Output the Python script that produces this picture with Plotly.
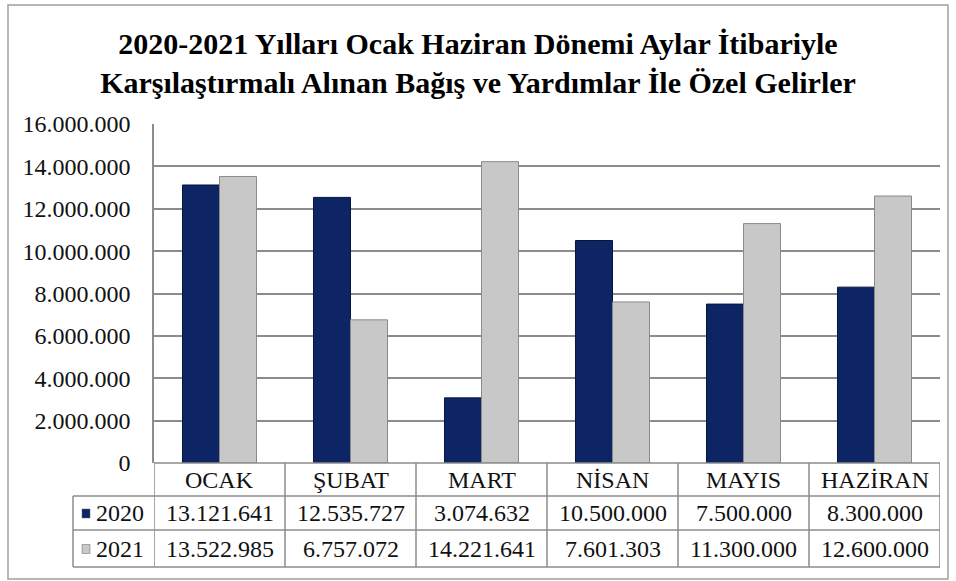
import plotly.graph_objects as go

# chart data
months = ["OCAK", "ŞUBAT", "MART", "NİSAN", "MAYIS", "HAZİRAN"]
years = ["2020", "2021"]
values_2020 = [13121641, 12535727, 3074632, 10500000, 7500000, 8300000]
values_2021 = [13522985, 6757072, 14221641, 7601303, 11300000, 12600000]
y_ticks = [0, 2000000, 4000000, 6000000, 8000000, 10000000, 12000000, 14000000, 16000000]

title = ("2020-2021 Yılları Ocak Haziran Dönemi Aylar İtibariyle<br>"
         "Karşılaştırmalı Alınan Bağış ve Yardımlar İle Özel Gelirler")

# page geometry in pixels
W, H = 956, 581
left, right, top, bottom = 154, 940, 124, 463
grid_col = "#8c8c8c"
navy = "#0d2465"
grey = "#c8c8c8"
font = "Times New Roman, Liberation Serif, serif"


def tr(n):
    # turkish thousands separator
    return f"{n:,}".replace(",", ".")


def px_x(p):
    return (p - left) / (right - left)


def px_y(p):
    return (bottom - p) / (bottom - top)


fig = go.Figure()
fig.add_bar(x=list(range(len(months))), y=values_2020, name=years[0],
            marker=dict(color=navy, line=dict(color="#071640", width=1)))
fig.add_bar(x=list(range(len(months))), y=values_2021, name=years[1],
            marker=dict(color=grey, line=dict(color="#8a8a8a", width=1)))

shapes = []
annotations = []

# outer frame
shapes.append(dict(type="rect", xref="paper", yref="paper",
                   x0=px_x(8), x1=px_x(948), y0=px_y(579), y1=px_y(5),
                   line=dict(color="#a0a0a0", width=1.5), layer="below"))

# data table under the plot
row_lines = [463, 496, 530, 567]
for i, ry in enumerate(row_lines):
    x0 = px_x(left) if i == 0 else px_x(73)
    shapes.append(dict(type="line", xref="paper", yref="paper",
                       x0=x0, x1=1, y0=px_y(ry), y1=px_y(ry),
                       line=dict(color=grid_col, width=1.5)))
for k in range(len(months) + 1):
    shapes.append(dict(type="line", xref="x", yref="paper",
                       x0=k - 0.5, x1=k - 0.5, y0=px_y(463), y1=px_y(567),
                       line=dict(color=grid_col, width=1.5)))
shapes.append(dict(type="line", xref="paper", yref="paper",
                   x0=px_x(73), x1=px_x(73), y0=px_y(496), y1=px_y(567),
                   line=dict(color=grid_col, width=1.5)))

txt = dict(family=font, size=24, color="#111111")
for k, m in enumerate(months):
    for ry, t in [(480, m), (513, tr(values_2020[k])), (548.5, tr(values_2021[k]))]:
        annotations.append(dict(x=k, y=px_y(ry), xref="x", yref="paper",
                                xanchor="center", yanchor="middle",
                                text=t, showarrow=False, font=txt))

for ry, yr, col in [(513, years[0], navy), (548.5, years[1], grey)]:
    shapes.append(dict(type="rect", xref="paper", yref="paper",
                       x0=px_x(82), x1=px_x(90), y0=px_y(ry + 5), y1=px_y(ry - 4),
                       fillcolor=col, line=dict(color="#666666", width=0.5)))
    annotations.append(dict(x=px_x(120), y=px_y(ry), xref="paper", yref="paper",
                            xanchor="center", yanchor="middle",
                            text=yr, showarrow=False, font=txt))

fig.update_layout(
    width=W, height=H,
    margin=dict(l=left, r=W - right, t=top, b=H - bottom, pad=0),
    paper_bgcolor="white", plot_bgcolor="white",
    separators=",.",
    barmode="group", bargap=0.435, bargroupgap=0,
    showlegend=False,
    title=dict(text=title, x=478 / W, xref="container", xanchor="center",
               y=1 - 54 / H, yanchor="middle",
               font=dict(family=font, size=30, color="black", weight="bold")),
    shapes=shapes, annotations=annotations,
    font=dict(family=font, color="#111111"),
)
fig.update_xaxes(range=[-0.5, 5.5], showticklabels=False, showgrid=False,
                 zeroline=False, fixedrange=True)
fig.update_yaxes(range=[0, 16000000], tickvals=y_ticks,
                 ticktext=[tr(v) for v in y_ticks],
                 tickfont=dict(family=font, size=24, color="#111111"),
                 showgrid=True, gridcolor=grid_col, gridwidth=1.5,
                 showline=True, linecolor=grid_col, linewidth=1.5,
                 zeroline=False, ticks="", ticklabelstandoff=17)

fig.write_html("out.html", config={"displayModeBar": False},
               post_script="document.body.style.margin='0';")
